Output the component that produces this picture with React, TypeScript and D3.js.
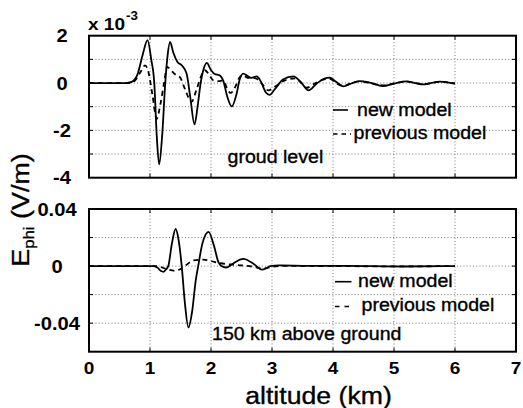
import React from "react";
import * as d3 from "d3";

// ---- data ----
// top panel (ground level), values in units of 1e-3 V/m
const topNewX = [0, 0.6, 0.7, 0.8, 0.88, 0.96, 1.02, 1.07, 1.11, 1.15, 1.2, 1.25, 1.29, 1.33, 1.38, 1.45, 1.52, 1.6, 1.66, 1.73, 1.78, 1.83, 1.88, 1.93, 2.0, 2.06, 2.14, 2.2, 2.27, 2.34, 2.42, 2.47, 2.53, 2.6, 2.66, 2.75, 2.82, 2.9, 2.96, 3.05, 3.18, 3.35, 3.47, 3.6, 3.72, 3.85, 3.95, 4.05, 4.17, 4.3, 4.44, 4.6, 4.82, 5.0, 5.2, 5.35, 5.48, 5.6, 5.75, 5.9, 6.0];
const topNewY = [0, 0, 0.05, 0.4, 1.2, 1.81, 1.0, 0, -2.2, -3.44, -2.2, 0, 1.2, 1.74, 1.3, 0.89, 0.75, 0.4, -0.6, -1.75, -1.0, 0, 0.6, 0.85, 0.55, 0.38, 0.33, 0.1, -0.6, -0.99, -0.45, 0.15, 0.4, 0.3, 0.22, 0.28, 0.05, -0.4, -0.5, -0.25, 0.15, 0.28, 0.05, -0.31, -0.05, 0.18, 0.23, 0.05, -0.14, -0.02, 0.08, 0.02, -0.13, -0.02, 0.07, 0.0, -0.06, 0, 0.06, 0.02, -0.03];
const topPrevX = [0, 0.65, 0.75, 0.84, 0.92, 0.98, 1.04, 1.11, 1.17, 1.23, 1.28, 1.34, 1.42, 1.49, 1.58, 1.68, 1.76, 1.84, 1.9, 1.97, 2.04, 2.12, 2.2, 2.26, 2.32, 2.4, 2.46, 2.52, 2.6, 2.73, 2.84, 2.94, 3.05, 3.2, 3.38, 3.48, 3.57, 3.7, 3.85, 3.95, 4.05, 4.17, 4.3, 4.44, 4.6, 4.82, 5.0, 5.2, 5.48, 5.75, 6.0];
const topPrevY = [0, 0, 0.1, 0.45, 0.75, 0.4, -0.5, -1.51, -0.9, 0, 0.68, 0.55, 0.35, 0.25, -0.3, -0.8, -0.3, 0.3, 0.54, 0.35, 0.11, 0.08, 0.1, -0.2, -0.42, -0.15, 0.2, 0.33, 0.22, 0.2, -0.05, -0.31, -0.15, 0.1, 0.2, 0.0, -0.2, -0.02, 0.15, 0.18, 0.0, -0.12, 0, 0.07, 0, -0.1, -0.02, 0.06, -0.05, 0.05, -0.02];

// bottom panel (150 km above ground), values in V/m
const botNewX = [0, 1.05, 1.12, 1.18, 1.22, 1.27, 1.3, 1.36, 1.42, 1.47, 1.52, 1.57, 1.63, 1.69, 1.75, 1.79, 1.86, 1.96, 2.05, 2.12, 2.17, 2.25, 2.35, 2.53, 2.7, 2.83, 2.9, 2.97, 3.12, 3.6, 4.2, 5.15, 6.0];
const botNewY = [0, 0, -0.001, -0.0035, -0.004, -0.002, 0, 0.016, 0.026, 0.018, 0, -0.025, -0.043, -0.032, -0.01, 0, 0.016, 0.024, 0.014, 0.003, 0, -0.001, 0.0015, 0.005, 0.0015, -0.0025, -0.0017, 0, 0.0005, 0.0002, 0.0002, -0.0003, 0];
const botPrevX = [0, 1.1, 1.2, 1.3, 1.41, 1.5, 1.6, 1.71, 1.87, 2.0, 2.15, 2.35, 2.5, 2.7, 2.85, 3.0, 3.2, 4.0, 5.0, 6.0];
const botPrevY = [0, 0, -0.001, -0.0025, -0.0033, -0.002, 0.001, 0.004, 0.0045, 0.0035, 0.002, 0.001, 0.0005, -0.0005, -0.0017, -0.0005, 0.0002, 0, -0.0002, 0];

const xTicks = [0, 1, 2, 3, 4, 5, 6, 7];
const topGrid = [-3, -2, -1, 0, 1];
const topTickLabels = [2, 0, -2, -4];
const botGrid = [-0.04, -0.02, 0, 0.02];
const botTickLabels = ["0.04", "0", "-0.04"];
const botTickValues = [0.04, 0, -0.04];
const seriesNames = ["new model", "previous model"];

const FONT = "'Liberation Sans', Arial, Helvetica, sans-serif";
const SX = 1.12;

function SText(props: any) {
  const { x, y, size, weight, anchor, children } = props;
  const bold = weight === "bold";
  return (
    <text
      transform={`translate(${x},${y}) scale(${SX},1)`}
      fontFamily={FONT}
      fontSize={size}
      fontWeight={weight || "normal"}
      textAnchor={anchor || "start"}
      fill="#000"
      stroke={bold ? "none" : "#000"}
      strokeWidth={bold ? 0 : 0.35}
    >
      {children}
    </text>
  );
}

export default function App() {
  const W = 523, H = 408;
  const x0 = 89, x1 = 516;
  const x = d3.scaleLinear().domain([0, 7]).range([x0, x1]);
  const yT = d3.scaleLinear().domain([-4, 2]).range([177.7, 35.7]);
  const yB = d3.scaleLinear().domain([-0.06, 0.04]).range([351.7, 209]);

  const mk = (xs: number[], ys: number[], ys2: any) =>
    d3.line<number>()
      .x((_, i) => x(xs[i]))
      .y((v) => ys2(v))
      .curve(d3.curveMonotoneX)(ys) || "";

  const grid = "#555";
  const tickLen = 4;

  const panel = (ys: any, grids: number[], top: number, bottom: number) => (
    <g>
      {grids.map((g) => (
        <line key={"h" + g} x1={x0} x2={x1} y1={ys(g)} y2={ys(g)} stroke={grid} strokeWidth={0.8} strokeDasharray="1,2.2" />
      ))}
      {xTicks.slice(1, -1).map((t) => (
        <line key={"v" + t} x1={x(t)} x2={x(t)} y1={top} y2={bottom} stroke={grid} strokeWidth={0.8} strokeDasharray="1,2.2" />
      ))}
      {xTicks.map((t) => (
        <g key={"t" + t}>
          <line x1={x(t)} x2={x(t)} y1={bottom} y2={bottom - tickLen} stroke="#000" strokeWidth={1} />
          <line x1={x(t)} x2={x(t)} y1={top} y2={top + tickLen} stroke="#000" strokeWidth={1} />
        </g>
      ))}
      {grids.map((g) => (
        <g key={"yt" + g}>
          <line x1={x0} x2={x0 + tickLen} y1={ys(g)} y2={ys(g)} stroke="#000" strokeWidth={1} />
          <line x1={x1} x2={x1 - tickLen} y1={ys(g)} y2={ys(g)} stroke="#000" strokeWidth={1} />
        </g>
      ))}
    </g>
  );

  return (
    <svg width={W} height={H} style={{ position: "absolute", left: 0, top: 0, background: "#fff" }}>
      <rect x={0} y={0} width={W} height={H} fill="#fff" />
      {/* top panel */}
      {panel(yT, topGrid, 35.7, 177.7)}
      <path d={mk(topPrevX, topPrevY, yT)} fill="none" stroke="#000" strokeWidth={1.8} strokeDasharray="5,4" />
      <path d={mk(topNewX, topNewY, yT)} fill="none" stroke="#000" strokeWidth={1.8} />
      <rect x={x0} y={35.7} width={x1 - x0} height={142} fill="none" stroke="#000" strokeWidth={2} />
      {topTickLabels.map((v) => (
        <SText key={"tl" + v} x={62} y={yT(v) + 6.5} size={18} weight="bold" anchor="middle">{v}</SText>
      ))}
      <SText x={88} y={30} size={17} weight="bold">x 10</SText>
      <SText x={126} y={20} size={12} weight="bold">-3</SText>
      <line x1={333} x2={348} y1={110} y2={110} stroke="#000" strokeWidth={1.6} />
      <line x1={333} x2={351} y1={134} y2={134} stroke="#000" strokeWidth={1.6} strokeDasharray="4.5,4" />
      <SText x={357} y={115.5} size={17.5}>{seriesNames[0]}</SText>
      <SText x={353.5} y={138.5} size={17.5}>{seriesNames[1]}</SText>
      <SText x={227.5} y={163} size={17.5}>groud level</SText>

      {/* bottom panel */}
      {panel(yB, botGrid, 209, 351.7)}
      <path d={mk(botPrevX, botPrevY, yB)} fill="none" stroke="#000" strokeWidth={1.8} strokeDasharray="5,4" />
      <path d={mk(botNewX, botNewY, yB)} fill="none" stroke="#000" strokeWidth={1.8} />
      <rect x={x0} y={209} width={x1 - x0} height={142.7} fill="none" stroke="#000" strokeWidth={2} />
      {botTickValues.map((v, i) => (
        <SText key={"bl" + i} x={57} y={yB(v) + 6.5} size={18} weight="bold" anchor="middle">{botTickLabels[i]}</SText>
      ))}
      <line x1={335} x2={351.5} y1={281.7} y2={281.7} stroke="#000" strokeWidth={1.6} />
      <line x1={335} x2={353} y1={306.5} y2={306.5} stroke="#000" strokeWidth={1.6} strokeDasharray="4.5,5" />
      <SText x={358} y={287} size={17.5}>{seriesNames[0]}</SText>
      <SText x={361.5} y={310.5} size={17.5}>{seriesNames[1]}</SText>
      <SText x={212} y={340} size={17.5}>150 km above ground</SText>

      {/* x tick labels */}
      {xTicks.map((t) => (
        <SText key={"xl" + t} x={x(t)} y={374} size={17} weight="bold" anchor="middle">{t}</SText>
      ))}
      <SText x={318.5} y={404} size={23.8} anchor="middle">altitude (km)</SText>

      {/* y label */}
      <text
        transform={`translate(28.5,210) rotate(-90) scale(${SX},1)`}
        fontFamily={FONT}
        fontSize={24}
        textAnchor="middle"
        fill="#000"
        stroke="#000"
        strokeWidth={0.35}
      >
        E<tspan fontSize={15} dy={5}>phi</tspan><tspan dy={-5}> (V/m)</tspan>
      </text>
    </svg>
  );
}
